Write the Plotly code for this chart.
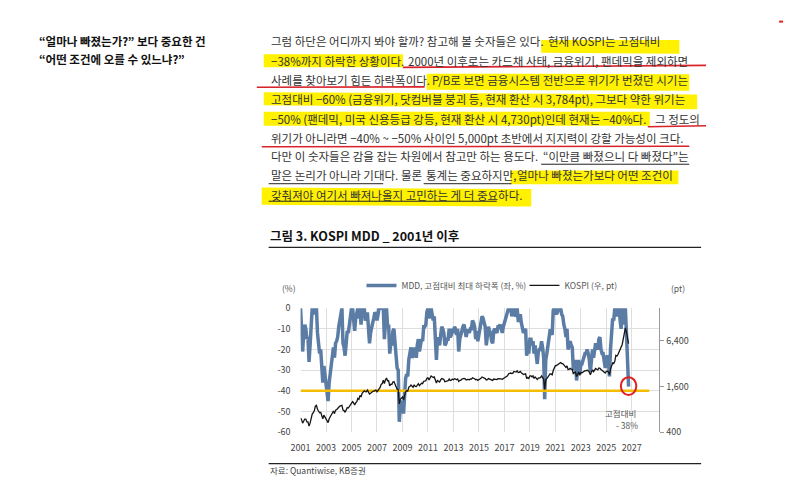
import numpy as np
import pandas as pd
import plotly.graph_objects as go

# MDD (%), monthly from Jan 2001
mdd_pct = [
    0, -10, -21, -12, -8, -10, -15, -14, -26, -18, -5, 0,            # 2001
    -3, 0, 0, 0, -12, -18, -22, -20, -30, -36, -28, -33,             # 2002
    -36, -40, -45, -36, -32, -28, -23, -19, -24, -17, -16, -14,      # 2003
    -9, -5, -4, 0, -17, -19, -23, -15, -11, -12, -7, -4,             # 2004
    0, 0, -6, -11, -5, -2, 0, -5, 0, -8, 0, 0,                       # 2005
    0, -6, -5, -2, -8, -17, -12, -8, -7, -5, -2, -3,                 # 2006
    -6, -3, 0, 0, 0, 0, 0, -15, -4, 0, -9, -8,                       # 2007
    -22, -17, -18, -11, -10, -19, -23, -29, -30, -55, -47, -46,      # 2008
    -45, -51, -42, -34, -32, -33, -25, -22, -19, -24, -23, -19,      # 2009
    -22, -24, -18, -15, -21, -18, -15, -16, -9, -9, -8, -2,          # 2010
    0, -5, 0, 0, -3, -6, -4, -18, -25, -14, -17, -18,                # 2011
    -13, -9, -10, -12, -18, -17, -15, -15, -10, -14, -13, -10,       # 2012
    -12, -9, -10, -13, -10, -21, -15, -13, -10, -9, -8, -11,         # 2013
    -14, -11, -11, -12, -10, -10, -6, -7, -9, -15, -11, -16,         # 2014
    -13, -11, -8, -4, -5, -7, -9, -18, -13, -9, -11, -12,            # 2015
    -16, -17, -11, -10, -11, -12, -9, -9, -8, -10, -12, -9,          # 2016
    -7, -6, -3, -1, 0, 0, 0, -4, -2, 0, -3, -4,                      # 2017
    0, -6, -6, -3, -7, -11, -12, -11, -10, -23, -19, -22,            # 2018
    -15, -15, -18, -16, -22, -18, -23, -27, -21, -20, -20, -16,      # 2019
    -19, -24, -44, -25, -22, -19, -14, -11, -11, -13, -1, 0,         # 2020
    0, -3, -2, 0, -1, 0, -3, -4, -8, -10, -14, -10,                  # 2021
    -20, -18, -16, -18, -19, -30, -26, -25, -35, -31, -25, -32,      # 2022
    -27, -27, -25, -24, -22, -22, -20, -22, -25, -31, -23, -20,      # 2023
    -24, -20, -17, -19, -20, -15, -14, -20, -22, -22, -26, -29,      # 2024
    -24, -23, -25, -33, -20, -10, -5, -6, 0, 0, -4, -2,              # 2025
    0, -6, -10, 0, -8, 0, 0, -12, -27, -38,                          # 2026
]

# KOSPI (pt), same months
kospi_pt = [
    615, 580, 525, 560, 595, 595, 545, 545, 480, 525, 640, 693,
    720, 770, 880, 900, 800, 740, 720, 730, 650, 600, 670, 630,
    590, 575, 535, 600, 630, 670, 710, 760, 700, 780, 790, 810,
    850, 880, 890, 900, 780, 770, 730, 800, 840, 830, 870, 895,
    930, 1010, 970, 910, 970, 1010, 1110, 1080, 1220, 1160, 1300, 1380,
    1400, 1370, 1360, 1430, 1360, 1270, 1300, 1350, 1370, 1390, 1430, 1430,
    1360, 1420, 1450, 1550, 1700, 1740, 1930, 1750, 1950, 2060, 1900, 1900,
    1620, 1710, 1700, 1830, 1850, 1670, 1590, 1470, 1450, 940, 1080, 1120,
    1160, 1060, 1210, 1370, 1400, 1390, 1560, 1590, 1670, 1580, 1560, 1680,
    1600, 1590, 1690, 1740, 1640, 1700, 1760, 1740, 1870, 1880, 1900, 2050,
    2070, 1940, 2100, 2190, 2140, 2100, 2130, 1880, 1770, 1910, 1850, 1830,
    1950, 2030, 2010, 1980, 1840, 1850, 1880, 1900, 2000, 1910, 1930, 1997,
    1960, 2020, 2000, 1960, 2000, 1860, 1910, 1930, 2000, 2030, 2040, 2010,
    1940, 1980, 1980, 1960, 2010, 2000, 2080, 2070, 2020, 1960, 1980, 1920,
    1950, 1990, 2040, 2130, 2110, 2070, 2030, 1940, 1960, 2030, 1990, 1960,
    1910, 1920, 2000, 1990, 1980, 1970, 2020, 2030, 2040, 2010, 1980, 2030,
    2070, 2090, 2160, 2200, 2350, 2390, 2400, 2360, 2390, 2520, 2480, 2470,
    2570, 2430, 2450, 2520, 2420, 2330, 2300, 2320, 2340, 2030, 2100, 2040,
    2200, 2200, 2140, 2200, 2040, 2130, 2020, 1970, 2060, 2080, 2090, 2200,
    2120, 2000, 1460, 1950, 2030, 2110, 2250, 2330, 2330, 2270, 2590, 2870,
    3000, 3010, 3060, 3150, 3200, 3300, 3200, 3200, 3070, 2970, 2840, 2980,
    2660, 2700, 2760, 2700, 2690, 2330, 2450, 2470, 2160, 2290, 2470, 2240,
    2430, 2410, 2480, 2500, 2580, 2560, 2630, 2560, 2470, 2280, 2530, 2650,
    2500, 2640, 2750, 2690, 2640, 2800, 2770, 2670, 2590, 2560, 2460, 2400,
    2520, 2530, 2480, 2290, 2700, 3070, 3250, 3190, 3420, 4100, 4000, 4200,
    4600, 4900, 5200, 5700, 6700, 7800, 9400, 8300, 6900, 5830,
]

ref_level = -40          # 노란 기준선
ref_end = '2028-05-15'
x_ticks = ['2001', '2003', '2005', '2007', '2009', '2011', '2013', '2015',
           '2017', '2019', '2021', '2023', '2025', '2027']
left_ticks = [0, -10, -20, -30, -40, -50, -60]
left_labels = ['0', '-10', '-20', '-30', '-40', '-50', '-60']
right_ticks = [400, 1600, 6400]
right_labels = ['400', '1,600', '6,400']

dates = pd.date_range('2001-01-01', periods=len(mdd_pct), freq='MS')

W, H = 787, 492
FONT = 'Noto Sans CJK KR'


def px(x):
    return x / W


def py(y):
    return 1 - y / H


fig = go.Figure()

fig.add_trace(go.Scatter(x=dates, y=mdd_pct, mode='lines', name='MDD, 고점대비 최대 하락폭 (좌, %)',
                         line=dict(color='#5a7ca5', width=3.5)))
fig.add_trace(go.Scatter(x=[dates[0], pd.Timestamp(ref_end)], y=[ref_level, ref_level], mode='lines',
                         line=dict(color='#f5bd00', width=2.5), showlegend=False, hoverinfo='skip'))
fig.add_trace(go.Scatter(x=dates, y=kospi_pt, mode='lines', name='KOSPI (우, pt)', yaxis='y2',
                         line=dict(color='#151515', width=1.3)))

shapes = []

# 형광펜 하이라이트 (x0, x1, 위-왼, 위-오, 아래-왼, 아래-오)
highlights = [
    (538, 678, 34, 34, 47, 48),
    (257, 398, 48.5, 48.5, 62, 62),
    (422, 688, 68.5, 69, 85, 86),
    (257, 696, 87.5, 90, 101, 105),
    (257, 648, 107.5, 107.5, 122, 122),
    (507, 677, 168, 168, 182, 182),
    (255, 528, 185.5, 187, 203, 205),
]
for x0, x1, t0, t1, b0, b1 in highlights:
    path = 'M {},{} L {},{} L {},{} L {},{} Z'.format(px(x0), py(t0), px(x1), py(t1),
                                                      px(x1), py(b1), px(x0), py(b0))
    shapes.append(dict(type='path', xref='paper', yref='paper', path=path,
                       fillcolor='#fff100', line=dict(width=0), layer='below'))

# 밑줄
red_lines = [(398, 62, 705, 60), (250, 82.5, 420, 82), (646, 123, 705, 122), (255, 143.5, 688, 143)]
for x0, y0, x1, y1 in red_lines:
    shapes.append(dict(type='line', xref='paper', yref='paper', x0=px(x0), y0=py(y0), x1=px(x1), y1=py(y1),
                       line=dict(color='#d9232a', width=1.6)))
black_lines = [(538, 161.5, 688, 161.5), (262, 181.5, 378, 181.5), (419, 181.5, 508, 181.5),
               (262, 199.5, 493, 199.5)]
for x0, y0, x1, y1 in black_lines:
    shapes.append(dict(type='line', xref='paper', yref='paper', x0=px(x0), y0=py(y0), x1=px(x1), y1=py(y1),
                       line=dict(color='#222222', width=1)))

# 제목/출처 구분선
for yy in (247, 469):
    shapes.append(dict(type='line', xref='paper', yref='paper', x0=px(262), y0=py(yy), x1=px(700), y1=py(yy),
                       line=dict(color='#222222', width=1.2)))

# 오른쪽 위 빨간 표시
shapes.append(dict(type='line', xref='paper', yref='paper', x0=px(779), y0=py(15), x1=px(783), y1=py(15),
                   line=dict(color='#e02020', width=2)))

# 마지막 지점 빨간 원
last_x = dates[-1]
last_y = mdd_pct[-1]
shapes.append(dict(type='circle', xref='x', yref='y',
                   x0=last_x - pd.Timedelta(days=222), x1=last_x + pd.Timedelta(days=222),
                   y0=last_y - 4.0, y1=last_y + 4.6,
                   line=dict(color='#e02020', width=2)))

annotations = []


def txt(s, x, y, size=11.5, color='#333333', bold=False, anchor='left'):
    if bold:
        s = '<b>' + s + '</b>'
    annotations.append(dict(text=s, x=px(x), y=py(y), xref='paper', yref='paper', showarrow=False,
                            xanchor=anchor, yanchor='middle', font=dict(family=FONT, size=size, color=color)))


# 왼쪽 소제목
txt('“얼마나 빠졌는가?” 보다 중요한 건', 27, 35, size=11.5, color='#111111', bold=True)
txt('“어떤 조건에 오를 수 있느냐?”', 27, 53, size=11.5, color='#111111', bold=True)

# 본문 (줄 번호, 문장 조각, x, 정렬)
rows_y = [35, 55, 75, 95, 115, 135, 153.5, 173, 193]
body = [
    (0, '그럼 하단은 어디까지 봐야 할까? 참고해 볼 숫자들은 있다.', 262, 'left'),
    (0, '현재 KOSPI는 고점대비', 543, 'left'),
    (1, '−38%까지 하락한 상황이다.', 262, 'left'),
    (1, '2000년 이후로는 카드채 사태, 금융위기, 팬데믹을 제외하면', 401, 'left'),
    (2, '사례를 찾아보기 힘든 하락폭이다.', 262, 'left'),
    (2, 'P/B로 보면 금융시스템 전반으로 위기가 번졌던 시기는', 425, 'left'),
    (3, '고점대비 −60% (금융위기, 닷컴버블 붕괴 등, 현재 환산 시 3,784pt), 그보다 약한 위기는', 262, 'left'),
    (4, '−50% (팬데믹, 미국 신용등급 강등, 현재 환산 시 4,730pt)인데 현재는 −40%다.', 262, 'left'),
    (4, '그 정도의', 651, 'left'),
    (5, '위기가 아니라면 −40% ~ −50% 사이인 5,000pt 초반에서 지지력이 강할 가능성이 크다.', 262, 'left'),
    (6, '다만 이 숫자들은 감을 잡는 차원에서 참고만 하는 용도다.', 262, 'left'),
    (6, '“이만큼 빠졌으니 다 빠졌다”는', 538, 'left'),
    (7, '말은 논리가 아니라 기대다. 물론', 262, 'left'),
    (7, '통계는 중요하지만,', 419, 'left'),
    (7, '얼마나 빠졌는가보다 어떤 조건이', 674, 'right'),
    (8, '갖춰져야 여기서 빠져나올지 고민하는 게 더 중요하다.', 262, 'left'),
]
for r, s, x, a in body:
    txt(s, x, rows_y[r], anchor=a)

# 그림 제목, 출처
txt('그림 3. KOSPI MDD _ 2001년 이후', 261, 235, size=12.5, color='#111111', bold=True)
txt('자료: Quantiwise, KB증권', 261, 476, size=8.5, color='#444444')

# 축 단위, 주석
txt('(%)', 283, 289, size=8.5, color='#555555', anchor='center')
txt('(pt)', 677, 289, size=8.5, color='#555555', anchor='center')
txt('고점대비', 618, 417, size=8.5, color='#555555', anchor='center')
txt('- 38%', 625, 429, size=8.5, color='#555555', anchor='center')

fig.update_layout(
    width=W, height=H,
    margin=dict(l=0, r=0, t=0, b=0),
    paper_bgcolor='white', plot_bgcolor='white',
    font=dict(family=FONT, size=9, color='#444444'),
    shapes=shapes,
    annotations=annotations,
    legend=dict(orientation='h', x=px(356), y=py(286), xanchor='left', yanchor='middle',
                font=dict(family=FONT, size=8.5, color='#555555'), bgcolor='rgba(0,0,0,0)',
                itemwidth=30, entrywidth=118, tracegroupgap=0),
    xaxis=dict(domain=[px(294.3), px(657.7)], type='date',
               range=['2001-01-01', '2029-03-01'],
               tickvals=[pd.Timestamp(t + '-01-01') for t in x_ticks], ticktext=x_ticks,
               showgrid=True, gridcolor='#dedede', gridwidth=1, zeroline=False, showline=False,
               ticks='', ticklabelstandoff=9, tickfont=dict(size=9, color='#444444')),
    yaxis=dict(domain=[py(436.7), py(309.3)], range=[-60, 0],
               tickvals=left_ticks, ticktext=left_labels,
               showgrid=True, gridcolor='#dedede', gridwidth=1, zeroline=False, showline=False,
               ticks='', ticklabelstandoff=9, tickfont=dict(size=9, color='#444444')),
    yaxis2=dict(overlaying='y', side='right', anchor='x', type='log',
                range=[np.log10(400), 4.234],
                tickvals=right_ticks, ticktext=right_labels,
                showgrid=False, zeroline=False, showline=True, linecolor='#999999', linewidth=1,
                ticks='outside', ticklen=4, tickcolor='#999999',
                tickfont=dict(size=9, color='#444444')),
)

# 페이지 기본 여백 제거, 툴바 숨김
fig.write_html('out.html', config={'displayModeBar': False},
               post_script="document.body.style.margin='0';document.body.style.overflow='hidden';")
